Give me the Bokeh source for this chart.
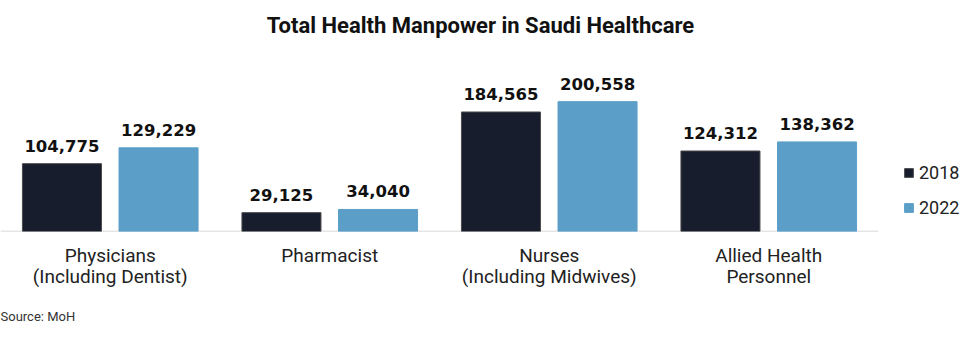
from bokeh.plotting import figure
from bokeh.models import (ColumnDataSource, Range1d, Legend, LegendItem, Title, FixedTicker)
from bokeh.core.properties import value
from bokeh.embed import file_html
from bokeh.resources import INLINE

categories = ["Physicians\n(Including Dentist)", "Pharmacist",
              "Nurses\n(Including Midwives)", "Allied Health\nPersonnel"]
years = ["2018", "2022"]
values_2018 = [104775, 29125, 184565, 124312]
values_2022 = [129229, 34040, 200558, 138362]

DARK = "#181d2d"
BLUE = "#5b9fc9"
OFF = 0.22
BAR_W = 0.36

pos = [i + 0.5 for i in range(len(categories))]
src = ColumnDataSource(dict(
    x18=[c - OFF for c in pos],
    x22=[c + OFF for c in pos],
    v18=values_2018,
    v22=values_2022,
    t18=[f"{v:,}" for v in values_2018],
    t22=[f"{v:,}" for v in values_2022],
))

n = len(categories)
p = figure(x_range=Range1d(0, n * 960 / 878), y_range=Range1d(0, 278000),
           width=960, height=337, output_backend="svg", toolbar_location=None,
           min_border_left=0, min_border_right=0, min_border_top=51, min_border_bottom=106)
p.outline_line_color = None
p.background_fill_color = "white"
p.border_fill_color = "white"

p.title.text = "Total Health Manpower in Saudi Healthcare"
p.title.align = "center"
p.title.text_font = "Roboto"
p.title.text_font_style = "bold"
p.title.text_font_size = "22px"
p.title.text_color = "#111111"
p.title.offset = 5

# spacer between title and plot area
p.add_layout(Title(text=" ", text_font_size="7px", standoff=0), "above")

# baseline across the category area only
p.segment(x0=[0], x1=[n], y0=[0], y1=[0], line_color="#cccccc", line_width=1.5)

r18 = p.vbar(x="x18", top="v18", width=BAR_W, source=src,
             fill_color=DARK, line_color="#4a4a4a", line_width=1)
r22 = p.vbar(x="x22", top="v22", width=BAR_W, source=src,
             fill_color=BLUE, line_color=BLUE, line_width=1)

for xc, yc, tc in (("x18", "v18", "t18"), ("x22", "v22", "t22")):
    p.text(x=xc, y=yc, text=tc, source=src,
           text_align="center", text_baseline="bottom", y_offset=-12,
           text_font=value("DejaVu Sans"), text_font_style="bold",
           text_font_size="16.5px", text_color="#111111")

p.yaxis.visible = False
p.grid.visible = False
p.xaxis.axis_line_color = None
p.xaxis.major_tick_line_color = None
p.xaxis.minor_tick_line_color = None
p.xaxis.ticker = FixedTicker(ticks=pos)
p.xaxis.major_label_overrides = {c: lab for c, lab in zip(pos, categories)}
p.xaxis.major_label_text_font = "Roboto"
p.xaxis.major_label_text_font_size = "19px"
p.xaxis.major_label_text_color = "#222222"
p.xaxis.major_label_text_line_height = 0.92
p.xaxis.major_label_standoff = 6

legend = Legend(items=[LegendItem(label=years[0], renderers=[r18]),
                       LegendItem(label=years[1], renderers=[r22])],
                location=(903, 13), border_line_color=None, background_fill_alpha=0,
                label_text_font="Roboto", label_text_font_size="18px",
                label_text_color="#222222", glyph_width=11, glyph_height=11,
                label_height=20, spacing=14, label_standoff=5, padding=0, margin=0)
p.add_layout(legend)

# source note, pushed down by a spacer after the axis labels
p.add_layout(Title(text=" ", text_font_size="14px", standoff=0), "below")
src_title = Title(text="Source: MoH", align="left", vertical_align="top", text_font="Roboto",
                  text_font_size="13px", text_font_style="normal", text_color="#333333",
                  standoff=0)
p.add_layout(src_title, "below")

open("out.html", "w").write(file_html(p, INLINE))
